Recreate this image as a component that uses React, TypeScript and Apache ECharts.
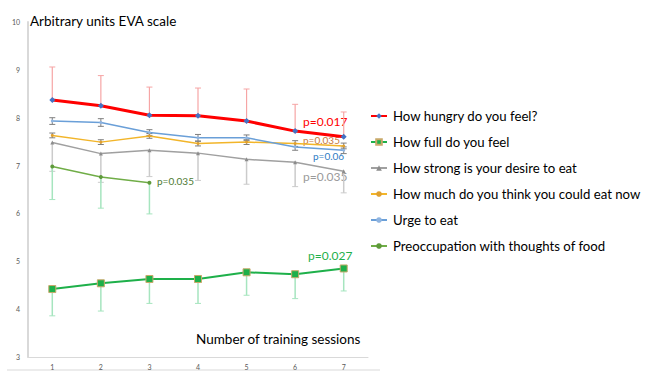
import React, { useEffect, useRef } from "react";
import * as echarts from "echarts";

const sessions = ["1", "2", "3", "4", "5", "6", "7"];

const hungry = [8.37, 8.25, 8.05, 8.04, 7.93, 7.72, 7.6];
const hungryErrUp = [0.69, 0.63, 0.59, 0.58, 0.67, 0.56, 0.52];

const full = [4.42, 4.54, 4.63, 4.63, 4.77, 4.73, 4.85];
const fullErrDown = [0.56, 0.58, 0.51, 0.51, 0.48, 0.51, 0.47];

const desire = [7.48, 7.25, 7.32, 7.26, 7.13, 7.07, 6.88];
const desireErrDown = [0.6, 0.6, 0.55, 0.57, 0.52, 0.51, 0.45];

const couldEat = [7.63, 7.49, 7.62, 7.46, 7.49, 7.46, 7.41];
const couldEatErr = [0.05, 0.05, 0.05, 0.05, 0.05, 0.06, 0.06];

const urge = [7.93, 7.9, 7.69, 7.58, 7.58, 7.39, 7.32];
const urgeErr = [0.07, 0.08, 0.06, 0.07, 0.06, 0.07, 0.07];

const preoccupation = [6.98, 6.76, 6.64];
const preoccupationErrDown = [0.69, 0.65, 0.65];

const seriesNames = [
  "How hungry do you feel?",
  "How full do you feel",
  "How strong is your desire to eat",
  "How much do you think you could eat now",
  "Urge to eat",
  "Preoccupation with thoughts of food",
];

const FONT = "Lato";

function errSeries(
  id: string,
  values: number[],
  up: number[] | null,
  down: number[] | null,
  color: string,
  width: number,
  z: number
) {
  const data = values.map((v, i) => [
    i,
    down ? v - down[i] : v,
    up ? v + up[i] : v,
  ]);
  const capTop = !!up;
  const capBottom = !!down;
  return {
    id,
    type: "custom",
    silent: true,
    z,
    data,
    renderItem: (params: any, api: any) => {
      const x = api.value(0);
      const lo = api.coord([x, api.value(1)]);
      const hi = api.coord([x, api.value(2)]);
      const cw = 3;
      const children: any[] = [
        {
          type: "line",
          shape: { x1: lo[0], y1: lo[1], x2: hi[0], y2: hi[1] },
          style: { stroke: color, lineWidth: width },
        },
      ];
      if (capTop)
        children.push({
          type: "line",
          shape: { x1: hi[0] - cw, y1: hi[1], x2: hi[0] + cw, y2: hi[1] },
          style: { stroke: color, lineWidth: 1 },
        });
      if (capBottom)
        children.push({
          type: "line",
          shape: { x1: lo[0] - cw, y1: lo[1], x2: lo[0] + cw, y2: lo[1] },
          style: { stroke: color, lineWidth: 1 },
        });
      return { type: "group", children };
    },
  };
}

export default function App() {
  const ref = useRef<HTMLDivElement>(null);

  useEffect(() => {
    if (!ref.current) return;
    document.body.style.margin = "0";
    const chart = echarts.init(ref.current, null, { renderer: "svg" });

    const option: any = {
      animation: false,
      backgroundColor: "#ffffff",
      textStyle: { fontFamily: FONT },
      grid: { left: 28, right: 282, top: 22, bottom: 22, containLabel: false },
      xAxis: {
        type: "category",
        data: sessions,
        boundaryGap: true,
        axisLine: { show: true, lineStyle: { color: "#D9D9D9", width: 1 } },
        axisTick: { show: false },
        axisLabel: { fontSize: 7, color: "#595959", margin: 6, fontFamily: FONT },
      },
      yAxis: {
        type: "value",
        min: 3,
        max: 10,
        interval: 1,
        axisLine: { show: true, lineStyle: { color: "#D9D9D9", width: 2 } },
        axisTick: { show: false },
        splitLine: { show: false },
        axisLabel: { fontSize: 7, color: "#595959", margin: 8, fontFamily: FONT },
      },
      legend: {
        orient: "vertical",
        left: 370,
        top: 108,
        padding: 0,
        itemGap: 10,
        itemWidth: 16,
        itemHeight: 7,
        data: seriesNames,
        textStyle: {
          fontSize: 13.2,
          lineHeight: 16,
          color: "#000000",
          fontFamily: FONT,
          padding: [0, 0, 0, 1],
        },
      },
      series: [
        errSeries("e-hungry", hungry, hungryErrUp, null, "#F6A5A5", 1.2, 3),
        errSeries("e-full", full, null, fullErrDown, "#A6E5BF", 1.5, 3),
        errSeries("e-desire", desire, null, desireErrDown, "#CBCBCB", 1.5, 2),
        errSeries("e-could", couldEat, couldEatErr, couldEatErr, "#7F7F7F", 1, 3),
        errSeries("e-urge", urge, urgeErr, urgeErr, "#7F7F7F", 1, 3),
        errSeries("e-preoc", preoccupation, null, preoccupationErrDown, "#A6E5BF", 1.5, 2),
        {
          name: seriesNames[0],
          type: "line",
          data: hungry,
          z: 10,
          color: "#FF0000",
          lineStyle: { color: "#FF0000", width: 3 },
          symbol: "diamond",
          symbolSize: 6,
          itemStyle: { color: "#4472C4", borderWidth: 0 },
        },
        {
          name: seriesNames[1],
          type: "line",
          data: full,
          z: 9,
          color: "#1EB04A",
          lineStyle: { color: "#1EB04A", width: 2 },
          symbol: "rect",
          symbolSize: 7,
          itemStyle: { color: "#1EB04A", borderColor: "#C8A96A", borderWidth: 1 },
        },
        {
          name: seriesNames[2],
          type: "line",
          data: desire,
          z: 5,
          color: "#A0A0A0",
          lineStyle: { color: "#A0A0A0", width: 1.5 },
          symbol: "triangle",
          symbolSize: 4,
          itemStyle: { color: "#8C8C8C", borderWidth: 0 },
        },
        {
          name: seriesNames[3],
          type: "line",
          data: couldEat,
          z: 6,
          color: "#F2B52A",
          lineStyle: { color: "#F2B52A", width: 1.5 },
          symbol: "circle",
          symbolSize: 3,
          itemStyle: { color: "#E0A030", borderWidth: 0 },
        },
        {
          name: seriesNames[4],
          type: "line",
          data: urge,
          z: 7,
          color: "#6A9FD8",
          lineStyle: { color: "#6A9FD8", width: 1.5 },
          symbol: "circle",
          symbolSize: 3,
          itemStyle: { color: "#8FB4E0", borderWidth: 0 },
        },
        {
          name: seriesNames[5],
          type: "line",
          data: preoccupation,
          z: 6,
          color: "#70AD47",
          lineStyle: { color: "#70AD47", width: 1.5 },
          symbol: "circle",
          symbolSize: 4,
          itemStyle: { color: "#5E9A3A", borderWidth: 0 },
        },
      ],
      graphic: [
        {
          type: "line",
          shape: { x1: 7, y1: 370, x2: 380, y2: 370 },
          style: { stroke: "#D9D9D9", lineWidth: 1 },
        },
        {
          type: "text",
          left: 30,
          top: 14,
          style: { text: "Arbitrary units EVA scale", fontSize: 13.5, fill: "#000000", fontFamily: FONT },
        },
        {
          type: "text",
          left: 196,
          top: 332,
          style: { text: "Number of training sessions", fontSize: 13.5, fill: "#000000", fontFamily: FONT },
        },
        {
          type: "text",
          left: 303,
          top: 115,
          style: { text: "p=0.017", fontSize: 12, fill: "#FF0000", fontFamily: FONT },
        },
        {
          type: "text",
          left: 303,
          top: 135,
          style: { text: "p=0.035", fontSize: 10, fill: "#C8773A", fontFamily: FONT },
        },
        {
          type: "text",
          left: 313,
          top: 151,
          style: { text: "p=0.06", fontSize: 10, fill: "#2E7BC4", fontFamily: FONT },
        },
        {
          type: "text",
          left: 303,
          top: 170,
          style: { text: "p=0.035", fontSize: 12, fill: "#9A9A9A", fontFamily: FONT },
        },
        {
          type: "text",
          left: 157,
          top: 176,
          style: { text: "p=0.035", fontSize: 10, fill: "#4E7A33", fontFamily: FONT },
        },
        {
          type: "text",
          left: 308,
          top: 249,
          style: { text: "p=0.027", fontSize: 12, fill: "#1EB04A", fontFamily: FONT },
        },
      ],
    };

    chart.setOption(option);
    return () => chart.dispose();
  }, []);

  return <div ref={ref} style={{ width: 650, height: 379 }} />;
}
